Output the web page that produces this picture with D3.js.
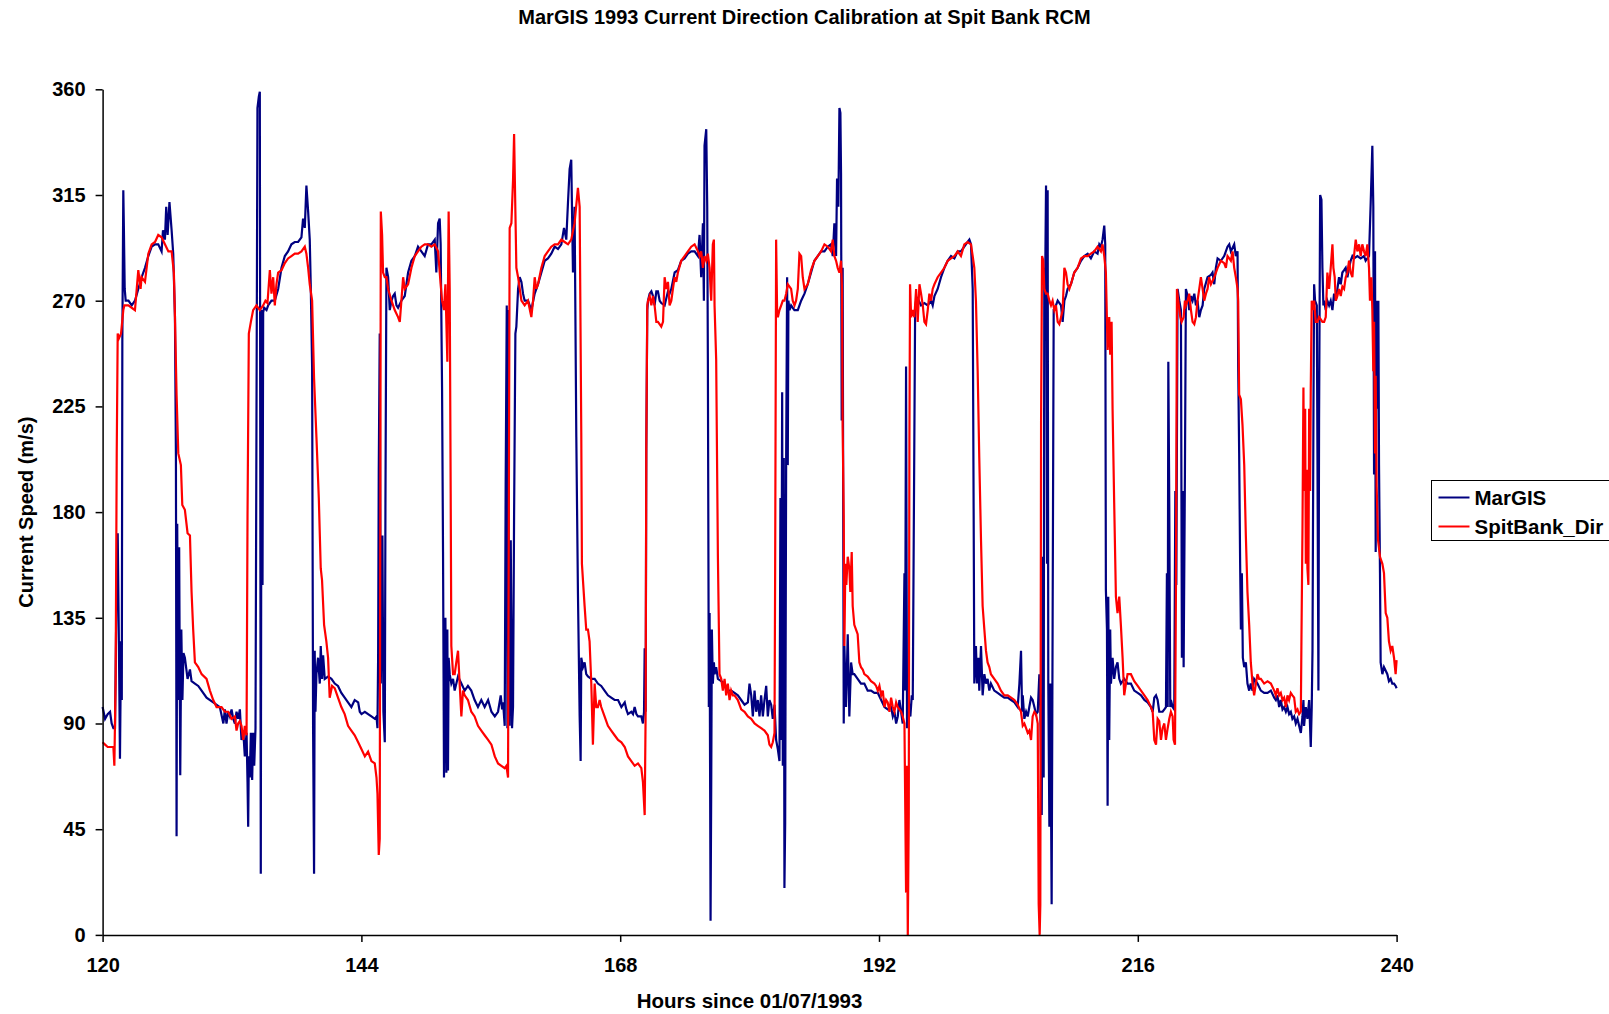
<!DOCTYPE html>
<html>
<head>
<meta charset="utf-8">
<script src="https://cdn.jsdelivr.net/npm/d3@7"></script>
<style>
  html, body { margin: 0; padding: 0; background: #fff; }
  svg { display: block; font-family: "Liberation Sans", Arial, sans-serif; }
</style>
</head>
<body>
<svg id="chart" width="1609" height="1014"></svg>
<script>
// ---- Data (hours since 01/07/1993, direction in degrees) ----
const titleText = "MarGIS 1993 Current Direction Calibration at Spit Bank RCM";
const xAxisTitle = "Hours since 01/07/1993";
const yAxisTitle = "Current Speed (m/s)";
const seriesNames = ["MarGIS", "SpitBank_Dir"];
const xTicks = [120, 144, 168, 192, 216, 240];
const yTicks = [0, 45, 90, 135, 180, 225, 270, 315, 360];

const margis = [
[120.0,97],[120.23,92],[120.47,94],[120.69,95],[120.84,90],[121.0,88],[121.15,88],[121.3,150],[121.4,171],[121.52,120],[121.61,75],[121.71,125],[121.78,100],[121.83,252],[121.92,317],[121.97,302],[122.05,275],[122.14,270],[122.4,270],[122.7,268],[123.0,270],[123.31,275],[123.62,280],[123.93,284],[124.24,289],[124.55,293],[124.86,294],[125.16,294],[125.47,291],[125.6,300],[125.78,296],[125.9,310],[126.03,298],[126.2,312],[126.4,300],[126.55,290],[126.71,263],[126.8,203],[126.86,42],[126.92,175],[127.0,100],[127.1,165],[127.2,68],[127.3,130],[127.4,100],[127.5,120],[127.63,118],[127.88,109],[128.1,113],[128.25,108],[128.56,107],[128.87,106],[129.18,104],[129.64,101],[130.26,99],[130.87,97],[131.2,90],
[131.34,96],[131.49,90],[131.65,95],[131.8,93],[131.96,96],[132.11,92],[132.27,90],[132.42,95],[132.57,92],[132.73,96],[132.88,83],[133.04,87],[133.19,76],[133.35,86],[133.44,65],[133.5,46],[133.56,76],[133.65,67],[133.75,86],[133.87,66],[133.96,86],[134.06,72],[134.18,88],[134.27,219],[134.36,352],[134.49,357],[134.58,359],[134.67,26],[134.74,266],[134.83,149],[134.89,265],[134.98,267],[135.2,266],[135.35,268],[135.66,270],[135.97,270],[136.28,275],[136.59,284],[136.9,289],[137.2,291],[137.51,294],[137.82,295],[138.13,295],[138.44,297],[138.59,305],[138.75,301],[138.9,319],[139.06,308],[139.21,296],[139.3,277],[139.43,242],[139.52,88],[139.61,26],[139.67,121],[139.74,95],[139.83,111],[139.98,118],[140.14,107],[140.23,123],[140.35,109],[140.45,119],[140.6,109],[140.91,110],[141.22,109],[141.53,107],[141.83,106],[142.14,103],[142.45,101],[142.76,99],[143.07,97],[143.38,100],
[143.7,99],[143.85,95],[144.01,94],[144.32,95],[144.62,94],[144.93,93],[145.24,92],[145.4,93],[145.49,88],[145.55,118],[145.61,198],[145.7,256],[145.8,107],[145.86,130],[145.95,170],[146.04,95],[146.17,82],[146.23,184],[146.32,284],[146.48,280],[146.63,266],[146.79,270],[146.94,272],[147.09,273],[147.25,268],[147.4,267],[147.71,270],[148.02,272],[148.33,282],[148.64,287],[148.95,289],[149.25,293],[149.56,291],[149.87,289],[150.18,294],[150.49,294],[150.8,296],[150.95,282],[151.11,303],[151.26,305],[151.35,294],[151.48,233],[151.57,163],[151.66,67],[151.72,111],[151.79,135],[151.88,69],[151.97,130],[152.03,70],[152.09,118],[152.19,111],[152.34,107],[152.5,109],[152.65,104],[152.96,110],[153.27,107],[153.58,104],[153.88,106],[154.19,104],[154.5,100],[154.81,97],[155.12,100],[155.43,97],
[155.75,100],[156.06,95],[156.37,93],[156.67,95],[156.92,102],[157.05,96],[157.14,99],[157.29,89],[157.38,193],[157.48,268],[157.54,88],[157.6,266],[157.66,154],[157.75,89],[157.85,168],[157.97,88],[158.06,97],[158.16,179],[158.28,256],[158.37,259],[158.53,275],[158.68,280],[158.84,278],[158.99,273],[159.14,270],[159.45,270],[159.76,266],[160.07,273],[160.38,277],[160.69,282],[161.0,287],[161.3,288],[161.61,290],[161.92,293],[162.23,292],[162.54,294],[162.79,301],[163.0,296],[163.16,312],[163.31,326],[163.46,330],[163.62,282],[163.77,310],[163.93,212],[164.08,146],[164.24,93],[164.33,74],[164.39,118],[164.55,114],[164.7,116],[164.85,111],[165.01,110],[165.32,109],[165.63,109],[165.93,107],[166.24,106],[166.55,104],[166.86,102],[167.17,101],[167.48,100],
[167.8,100],[168.11,97],[168.42,99],[168.57,96],[168.72,94],[169.03,95],[169.19,94],[169.34,97],[169.5,94],[169.65,93],[169.96,93],[170.11,90],[170.21,95],[170.27,122],[170.36,95],[170.42,207],[170.51,266],[170.58,270],[170.73,273],[170.89,274],[171.04,272],[171.19,268],[171.35,274],[171.5,274],[171.66,270],[171.81,269],[172.12,268],[172.43,274],[172.58,273],[172.74,275],[173.05,282],[173.35,283],[173.66,287],[173.97,288],[174.28,290],[174.59,291],[174.9,291],[175.21,289],[175.36,298],[175.51,280],[175.67,303],[175.76,270],[175.82,336],[175.98,343],[176.07,310],[176.13,245],[176.22,97],[176.29,137],[176.38,6],[176.44,62],[176.5,130],[176.59,107],[176.69,116],[176.75,111],[176.9,114],[177.06,109],[177.37,108],[177.68,107],[177.98,104],[178.29,104],[178.6,103],[178.91,102],[179.22,100],[179.53,98],
[179.84,99],[179.99,107],[180.15,102],[180.3,93],[180.46,104],[180.61,95],[180.76,100],[180.92,93],[181.07,102],[181.23,93],[181.38,100],[181.54,106],[181.69,93],[181.84,100],[182.0,98],[182.15,92],[182.31,98],[182.46,83],[182.62,79],[182.77,74],[182.86,186],[182.93,83],[183.02,231],[183.08,72],[183.17,203],[183.23,20],[183.3,48],[183.39,203],[183.48,280],[183.54,200],[183.6,270],[183.7,266],[183.85,268],[184.0,267],[184.16,266],[184.47,266],[184.78,270],[185.09,273],[185.39,277],[185.7,282],[186.01,287],[186.32,289],[186.63,291],[186.94,291],[187.25,293],[187.55,294],[187.71,289],[187.86,303],[188.02,289],[188.11,322],[188.23,310],[188.33,352],[188.42,350],[188.48,324],[188.54,219],[188.63,284],[188.73,90],[188.79,123],[188.94,97],[189.1,128],[189.25,93],[189.41,116],[189.56,111],[189.71,111],[190.02,109],[190.33,107],[190.64,107],[190.95,104],[191.26,104],[191.57,103],
[191.89,103],[192.2,100],[192.51,97],[192.81,96],[193.12,97],[193.28,93],[193.43,95],[193.59,90],[193.74,93],[193.89,100],[194.05,95],[194.2,90],[194.36,154],[194.42,104],[194.51,242],[194.6,88],[194.67,107],[194.82,95],[194.91,93],[195.04,102],[195.13,100],[195.22,168],[195.35,266],[195.44,270],[195.59,271],[195.9,268],[196.21,269],[196.52,268],[196.83,270],[196.98,268],[197.14,272],[197.44,275],[197.75,280],[198.06,284],[198.37,287],[198.68,289],[198.99,288],[199.3,291],[199.6,291],[199.91,293],[200.22,295],[200.38,296],[200.53,294],[200.69,275],[200.78,177],[200.84,107],[200.99,123],[201.09,107],[201.21,118],[201.3,104],[201.46,123],[201.61,102],[201.77,111],[201.92,107],[202.07,109],[202.23,104],[202.38,107],[202.69,104],[203.0,103],[203.31,102],[203.62,101],
[203.94,101],[204.25,100],[204.56,99],[204.86,97],[205.02,107],[205.17,121],[205.27,95],[205.33,102],[205.48,92],[205.64,95],[205.79,93],[205.94,97],[206.1,101],[206.25,100],[206.41,97],[206.56,94],[206.72,95],[206.87,111],[206.96,97],[207.09,51],[207.18,161],[207.27,67],[207.33,284],[207.4,273],[207.49,319],[207.58,158],[207.64,317],[207.7,107],[207.8,46],[207.89,107],[208.01,13],[208.1,132],[208.2,266],[208.26,266],[208.41,268],[208.57,270],[208.88,268],[209.03,261],[209.19,270],[209.34,272],[209.49,275],[209.8,277],[210.11,282],[210.42,284],[210.73,287],[211.04,289],[211.35,290],[211.65,288],[211.96,291],[212.27,290],[212.43,294],[212.58,293],[212.73,296],[212.89,302],[212.98,294],[213.04,147],[213.14,130],[213.2,55],[213.26,144],[213.35,83],[213.44,130],[213.51,107],[213.66,118],[213.81,109],[213.97,114],[214.12,116],[214.28,109],[214.43,107],[214.74,109],[215.05,107],[215.36,107],[215.67,104],
[215.99,103],[216.3,102],[216.61,100],[216.91,99],[217.22,97],[217.38,95],[217.53,101],[217.69,102],[217.84,100],[217.99,95],[218.3,95],[218.46,96],[218.61,97],[218.7,154],[218.77,97],[218.83,244],[218.92,182],[219.01,97],[219.07,100],[219.23,97],[219.38,96],[219.48,189],[219.57,149],[219.69,275],[219.85,270],[220.0,266],[220.09,118],[220.16,189],[220.25,114],[220.37,196],[220.46,275],[220.62,272],[220.77,266],[220.93,272],[221.08,270],[221.24,273],[221.39,268],[221.54,270],[221.7,263],[221.85,266],[222.01,268],[222.16,275],[222.47,280],[222.78,281],[222.93,282],[223.09,277],[223.24,284],[223.4,288],[223.7,287],[224.01,289],[224.32,293],[224.48,294],[224.63,291],[224.94,294],[225.09,289],[225.25,291],[225.31,242],[225.4,205],[225.49,158],[225.56,130],[225.65,154],[225.74,118],[225.87,114],[226.02,116],[226.17,107],[226.33,104],[226.48,107],[226.64,104],[226.79,109],[227.1,107],[227.41,104],[227.72,103],
[228.03,103],[228.34,104],[228.65,101],[228.8,100],[228.95,102],[229.11,97],[229.26,100],[229.42,96],[229.57,97],[229.73,95],[229.88,97],[230.03,94],[230.19,95],[230.34,92],[230.5,93],[230.65,90],[230.81,92],[230.96,89],[231.12,86],[231.27,93],[231.36,100],[231.42,89],[231.58,97],[231.73,92],[231.89,100],[232.04,80],[232.13,97],[232.2,121],[232.29,224],[232.35,277],[232.44,270],[232.6,268],[232.66,205],[232.75,104],[232.81,219],[232.91,315],[233.03,313],[233.12,284],[233.21,268],[233.28,270],[233.43,266],[233.58,270],[233.74,268],[233.89,270],[234.05,266],[234.2,273],[234.36,270],[234.51,275],[234.66,280],[234.82,277],[234.97,282],[235.13,283],[235.28,284],[235.44,280],[235.59,284],[235.74,287],[235.9,289],[236.05,288],[236.36,289],[236.67,288],[236.98,289],[237.13,287],[237.29,288],[237.44,289],[237.6,312],[237.75,336],[237.84,310],[237.91,196],[238.0,291],[238.06,163],[238.15,270],[238.21,224],[238.31,270],[238.37,200],[238.46,154],[238.52,116],[238.68,111],[238.83,114],[239.14,111],[239.29,108],[239.45,109],[239.6,107],[239.76,107],[239.91,106],[240.0,105]
];

const spitBank = [
[120.0,82],[120.23,81],[120.47,80],[120.69,80],[121.0,80],[121.09,72],[121.21,109],[121.31,205],[121.4,256],[121.52,254],[121.71,256],[121.92,266],[122.02,268],[122.39,268],[122.7,267],[123.0,266],[123.31,283],[123.52,275],[123.62,280],[123.93,278],[124.24,290],[124.55,294],[124.86,295],[125.16,298],[125.47,297],[125.78,294],[126.1,291],[126.4,291],[126.61,282],[126.71,263],[126.86,230],[127.02,205],[127.26,200],[127.39,183],[127.63,181],[127.88,171],[128.1,170],[128.25,146],[128.4,130],[128.56,116],[128.87,114],[129.18,111],[129.64,109],[129.95,104],[130.26,100],[130.57,97],[131.03,97],[131.34,95],
[131.65,95],[131.96,92],[132.27,93],[132.42,87],[132.57,90],[132.73,91],[132.88,89],[133.04,83],[133.19,89],[133.35,85],[133.44,179],[133.56,256],[133.75,261],[133.96,266],[134.27,268],[134.58,266],[134.89,268],[135.1,270],[135.29,269],[135.51,283],[135.66,273],[135.82,280],[135.97,268],[136.12,277],[136.28,282],[136.59,283],[136.9,286],[137.2,288],[137.51,289],[137.82,290],[138.13,290],[138.44,291],[138.75,293],[138.9,290],[139.06,284],[139.21,277],[139.43,270],[139.61,237],[139.83,212],[140.05,186],[140.23,156],[140.35,151],[140.54,132],[140.75,125],[140.91,118],[141.06,101],[141.28,106],[141.53,105],[141.83,101],[142.14,97],[142.45,94],[142.76,89],[143.07,87],[143.38,85],
[143.7,82],[144.01,79],[144.32,76],[144.62,78],[144.93,74],[145.24,73],[145.4,67],[145.49,60],[145.61,34],[145.7,41],[145.8,308],[145.92,298],[146.01,282],[146.17,280],[146.32,280],[146.48,275],[146.79,270],[147.09,266],[147.4,263],[147.56,261],[147.71,270],[147.87,280],[148.02,275],[148.33,277],[148.64,284],[148.95,289],[149.25,291],[149.56,293],[149.87,294],[150.18,294],[150.49,293],[150.8,294],[151.11,291],[151.35,277],[151.48,270],[151.66,266],[151.79,277],[151.97,244],[152.09,308],[152.19,275],[152.28,188],[152.34,123],[152.5,111],[152.65,111],[152.8,116],[152.96,121],[153.11,107],[153.27,93],[153.42,104],[153.58,102],[153.88,100],[154.19,95],[154.5,93],[154.81,89],[155.12,87],[155.43,85],
[155.75,83],[156.06,81],[156.37,76],[156.67,73],[156.98,72],[157.29,71],[157.45,72],[157.6,67],[157.75,301],[157.91,303],[158.06,321],[158.16,341],[158.28,308],[158.37,284],[158.53,280],[158.84,270],[159.14,268],[159.45,270],[159.76,263],[159.92,270],[160.07,280],[160.22,275],[160.38,277],[160.69,284],[161.0,289],[161.3,291],[161.61,293],[161.92,294],[162.23,294],[162.54,296],[162.85,295],[163.16,294],[163.46,296],[163.77,303],[164.08,318],[164.24,310],[164.39,214],[164.45,158],[164.7,140],[164.85,130],[165.01,130],[165.16,125],[165.32,107],[165.47,81],[165.63,107],[165.78,97],[165.93,97],[166.09,100],[166.24,97],[166.55,93],[166.86,89],[167.17,87],[167.48,85],
[167.8,83],[168.11,82],[168.42,80],[168.72,76],[169.03,74],[169.34,72],[169.65,73],[169.96,71],[170.11,65],[170.27,51],[170.36,95],[170.42,207],[170.51,268],[170.58,270],[170.73,272],[170.89,268],[171.04,272],[171.19,268],[171.35,261],[171.5,261],[171.81,259],[171.97,261],[172.12,280],[172.27,275],[172.43,278],[172.58,268],[172.74,270],[172.89,275],[173.05,280],[173.2,278],[173.35,282],[173.66,287],[173.97,289],[174.28,291],[174.59,293],[174.9,294],[175.21,291],[175.36,289],[175.51,291],[175.67,284],[175.82,289],[175.98,287],[176.13,290],[176.29,284],[176.38,275],[176.44,270],[176.59,294],[176.69,296],[176.75,268],[176.9,245],[177.06,161],[177.21,111],[177.37,109],[177.52,104],[177.68,109],[177.83,102],[177.98,107],[178.14,100],[178.29,104],[178.45,102],[178.6,102],[178.91,100],[179.22,96],[179.53,95],
[179.84,93],[180.15,92],[180.46,90],[180.76,89],[181.07,88],[181.38,87],[181.69,85],[181.84,81],[182.0,80],[182.15,82],[182.31,86],[182.37,156],[182.46,296],[182.55,266],[182.62,263],[182.77,266],[182.93,268],[183.08,270],[183.23,270],[183.39,273],[183.54,277],[183.7,276],[183.85,275],[184.0,270],[184.16,268],[184.31,270],[184.47,275],[184.62,290],[184.78,289],[184.93,280],[185.09,275],[185.39,277],[185.7,283],[186.01,287],[186.32,289],[186.63,291],[186.94,294],[187.25,293],[187.55,291],[187.71,296],[187.86,289],[188.02,287],[188.17,284],[188.33,282],[188.48,287],[188.57,275],[188.63,216],[188.73,177],[188.79,123],[188.88,158],[188.97,149],[189.1,161],[189.25,156],[189.34,146],[189.47,163],[189.56,140],[189.71,132],[189.87,130],[190.02,128],[190.18,116],[190.33,114],[190.49,113],[190.64,111],[190.95,110],[191.26,108],[191.57,107],
[191.73,106],[191.89,104],[192.04,106],[192.2,102],[192.35,104],[192.51,97],[192.66,100],[192.81,99],[192.97,95],[193.12,101],[193.28,97],[193.43,95],[193.59,99],[193.74,97],[194.05,95],[194.2,93],[194.36,90],[194.51,18],[194.57,72],[194.67,0],[194.76,51],[194.82,210],[194.88,277],[194.98,263],[195.13,266],[195.28,263],[195.44,275],[195.59,261],[195.75,277],[195.9,273],[196.06,268],[196.21,261],[196.36,260],[196.52,266],[196.67,273],[196.83,270],[196.98,275],[197.14,277],[197.44,280],[197.75,282],[198.06,284],[198.37,287],[198.68,288],[198.99,289],[199.3,291],[199.6,289],[199.91,294],[200.22,295],[200.53,294],[200.69,289],[200.84,284],[200.99,270],[201.15,240],[201.3,203],[201.46,168],[201.61,140],[201.77,130],[201.92,121],[202.07,116],[202.23,114],[202.38,111],[202.69,109],[203.0,107],[203.31,104],[203.62,102],
[203.94,102],[204.25,101],[204.56,100],[204.86,98],[205.17,95],[205.33,89],[205.48,90],[205.64,88],[205.79,86],[205.94,87],[206.1,83],[206.25,93],[206.41,95],[206.56,94],[206.72,90],[206.81,13],[206.9,0],[206.96,13],[207.03,219],[207.12,289],[207.24,287],[207.33,275],[207.49,273],[207.64,273],[207.8,270],[207.95,268],[208.1,270],[208.26,266],[208.41,268],[208.57,261],[208.72,260],[208.88,263],[209.03,266],[209.19,284],[209.34,282],[209.49,277],[209.65,275],[209.8,277],[210.11,282],[210.42,284],[210.73,288],[211.04,289],[211.35,289],[211.65,290],[211.96,291],[212.27,293],[212.58,291],[212.73,294],[212.89,289],[213.04,282],[213.2,249],[213.35,263],[213.44,247],[213.57,261],[213.66,224],[213.81,184],[213.97,144],[214.12,137],[214.28,144],[214.43,132],[214.59,118],[214.74,102],[214.9,107],[215.05,111],[215.36,111],[215.67,108],
[215.99,106],[216.3,104],[216.61,102],[216.91,100],[217.22,97],[217.38,95],[217.53,83],[217.69,81],[217.84,92],[217.99,91],[218.15,83],[218.3,88],[218.46,90],[218.61,83],[218.77,88],[218.92,92],[219.07,95],[219.23,93],[219.32,83],[219.45,81],[219.54,149],[219.63,275],[219.75,270],[219.94,263],[220.06,261],[220.25,263],[220.37,270],[220.46,268],[220.62,270],[220.77,273],[220.93,266],[221.08,261],[221.24,260],[221.39,263],[221.54,270],[221.7,275],[221.85,280],[222.01,275],[222.16,270],[222.32,273],[222.47,275],[222.62,280],[222.78,277],[223.09,280],[223.4,284],[223.7,287],[224.01,286],[224.17,284],[224.32,289],[224.48,288],[224.63,287],[224.79,291],[224.94,284],[225.09,280],[225.25,275],[225.31,270],[225.4,230],[225.56,228],[225.71,217],[225.87,200],[226.02,170],[226.17,146],[226.33,132],[226.48,116],[226.64,107],[226.79,102],[226.95,107],[227.1,111],[227.25,109],[227.41,109],[227.72,107],
[228.03,108],[228.34,107],[228.65,104],[228.8,102],[228.95,105],[229.11,102],[229.26,103],[229.42,100],[229.57,101],[229.73,97],[229.88,102],[230.03,100],[230.19,103],[230.34,102],[230.5,101],[230.65,95],[230.81,96],[230.96,94],[231.12,95],[231.18,128],[231.27,172],[231.36,233],[231.42,189],[231.52,224],[231.58,158],[231.67,198],[231.73,156],[231.82,149],[231.89,224],[231.98,189],[232.04,233],[232.13,270],[232.2,266],[232.35,270],[232.5,261],[232.66,261],[232.81,263],[232.97,262],[233.12,261],[233.28,261],[233.43,263],[233.58,282],[233.74,275],[233.89,284],[234.05,294],[234.14,284],[234.26,280],[234.36,270],[234.51,272],[234.66,275],[234.82,272],[234.97,276],[235.13,275],[235.28,280],[235.44,282],[235.59,287],[235.74,282],[235.9,280],[236.05,289],[236.21,296],[236.36,291],[236.52,294],[236.67,289],[236.82,294],[236.98,291],[237.13,289],[237.29,294],[237.44,284],[237.53,270],[237.66,280],[237.75,266],[237.84,240],[237.91,261],[238.0,205],[238.06,238],[238.15,191],[238.28,168],[238.46,161],[238.68,158],[238.83,154],[238.99,137],[239.14,135],[239.29,125],[239.45,121],[239.6,123],[239.76,118],[239.91,111],[240.0,117]
];

// ---- Layout ----
const W = 1609, H = 1014;
const plot = { left: 102.6, right: 1396.6, top: 89.3, bottom: 934.9 };
const colors = ["#000080", "#FF0000"];

const svg = d3.select("#chart");
svg.append("rect").attr("width", W).attr("height", H).attr("fill", "#fff");

const x = d3.scaleLinear().domain([120, 240]).range([plot.left, plot.right]);
const y = d3.scaleLinear().domain([0, 360]).range([plot.bottom, plot.top]);

const line = d3.line().x(d => x(d[0])).y(d => y(d[1]));

[margis, spitBank].forEach((s, i) => {
  svg.append("path")
    .datum(s)
    .attr("d", line)
    .attr("fill", "none")
    .attr("stroke", colors[i])
    .attr("stroke-width", 2.2)
    .attr("stroke-linejoin", "miter");
});

// Axes
const fontAxis = 20;
const yAxis = d3.axisLeft(y).tickValues(yTicks).tickSize(7).tickSizeOuter(0).tickPadding(10).tickFormat(d3.format("d"));
const gy = svg.append("g").attr("transform", `translate(${plot.left},0)`).call(yAxis);
const xAxis = d3.axisBottom(x).tickValues(xTicks).tickSize(7).tickSizeOuter(0).tickPadding(16).tickFormat(d3.format("d"));
const gx = svg.append("g").attr("transform", `translate(0,${plot.bottom})`).call(xAxis);

[gx, gy].forEach(g => {
  g.select(".domain").attr("stroke", "#000").attr("stroke-width", 1.5);
  g.selectAll(".tick line").attr("stroke", "#000").attr("stroke-width", 1.5);
  g.selectAll(".tick text")
    .attr("fill", "#000")
    .style("font-family", '"Liberation Sans", Arial, sans-serif')
    .style("font-size", fontAxis + "px")
    .style("font-weight", "bold");
});

// Title
svg.append("text")
  .attr("x", W / 2).attr("y", 24)
  .attr("text-anchor", "middle")
  .style("font-size", "20px").style("font-weight", "bold")
  .text(titleText);

// Axis titles
svg.append("text")
  .attr("x", (plot.left + plot.right) / 2).attr("y", 1008)
  .attr("text-anchor", "middle")
  .style("font-size", "20.5px").style("font-weight", "bold")
  .text(xAxisTitle);

svg.append("text")
  .attr("transform", `translate(33,${(plot.top + plot.bottom) / 2}) rotate(-90)`)
  .attr("text-anchor", "middle")
  .style("font-size", "20px").style("font-weight", "bold")
  .text(yAxisTitle);

// Legend
const lg = svg.append("g").attr("transform", "translate(1431.5,480.5)");
lg.append("rect").attr("width", 200).attr("height", 60)
  .attr("fill", "#fff").attr("stroke", "#000").attr("stroke-width", 1);
seriesNames.forEach((name, i) => {
  const yy = 17 + i * 29;
  lg.append("line").attr("x1", 7).attr("x2", 38).attr("y1", yy).attr("y2", yy)
    .attr("stroke", colors[i]).attr("stroke-width", 2);
  lg.append("text").attr("x", 43).attr("y", yy + 7)
    .style("font-size", "20.5px").style("font-weight", "bold")
    .text(name);
});
</script>
</body>
</html>
